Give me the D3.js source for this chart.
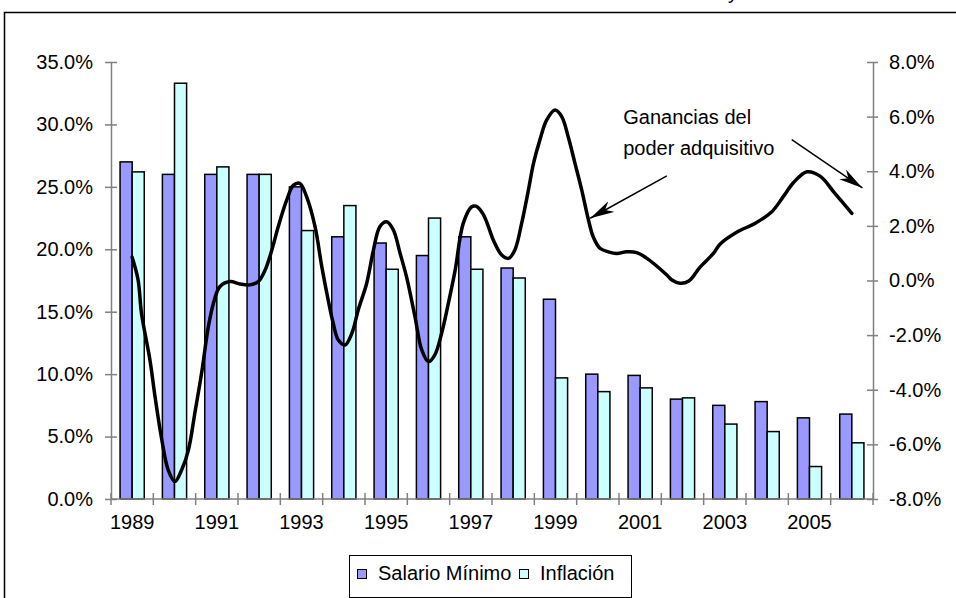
<!DOCTYPE html>
<html>
<head>
<meta charset="utf-8">
<script src="https://cdn.jsdelivr.net/npm/d3@7"></script>
<style>
body { margin: 0; background: #fff; }
text { font-family: "Liberation Sans", Arial, sans-serif; font-size: 20px; fill: #000; }
</style>
</head>
<body>
<div id="chart"></div>
<script>
var years = [1989, 1990, 1991, 1992, 1993, 1994, 1995, 1996, 1997, 1998, 1999, 2000, 2001, 2002, 2003, 2004, 2005, 2006];
var salarioMinimo = [27.0, 26.0, 26.0, 26.0, 25.0, 21.0, 20.5, 19.5, 21.0, 18.5, 16.0, 10.0, 9.9, 8.0, 7.5, 7.8, 6.5, 6.8];
var inflacion = [26.2, 33.3, 26.6, 26.0, 21.5, 23.5, 18.4, 22.5, 18.4, 17.7, 9.7, 8.6, 8.9, 8.1, 6.0, 5.4, 2.6, 4.5];
var leftTicks = [0, 5, 10, 15, 20, 25, 30, 35];
var rightTicks = [-8, -6, -4, -2, 0, 2, 4, 6, 8];
var yearLabels = [1989, 1991, 1993, 1995, 1997, 1999, 2001, 2003, 2005];

// ganancias del poder adquisitivo (eje derecho)
var gananciaFecha = [1989.00, 1989.14, 1989.22, 1989.42, 1989.54, 1989.70, 1989.85, 1990.01, 1990.17, 1990.33,
	1990.48, 1990.64, 1990.80, 1990.92, 1991.07, 1991.31, 1991.55, 1991.78, 1991.98, 1992.14,
	1992.30, 1992.45, 1992.65, 1992.81, 1992.96, 1993.12, 1993.32, 1993.48, 1993.63, 1993.75,
	1993.87, 1994.03, 1994.19, 1994.34, 1994.54, 1994.70, 1994.85, 1995.01, 1995.17, 1995.33,
	1995.48, 1995.68, 1995.84, 1996.00, 1996.15, 1996.31, 1996.47, 1996.63, 1996.82, 1997.02,
	1997.12, 1997.29, 1997.45, 1997.53, 1997.73, 1997.89, 1998.04, 1998.20, 1998.36, 1998.48,
	1998.63, 1998.79, 1998.99, 1999.15, 1999.30, 1999.46, 1999.62, 1999.78, 1999.89, 2000.05,
	2000.25, 2000.45, 2000.68, 2000.92, 2001.15, 2001.39, 2001.63, 2001.75, 2001.94, 2002.15,
	2002.41, 2002.73, 2002.89, 2003.28, 2003.71, 2004.11, 2004.38, 2004.62, 2004.94, 2005.25,
	2005.60, 2006.00];
var gananciaValor = [0.85, 0.02, -1.20, -2.91, -4.25, -5.83, -6.93, -7.36, -6.93, -6.20,
	-4.86, -3.39, -1.69, -0.83, -0.23, -0.04, -0.13, -0.16, -0.04, 0.38,
	1.12, 1.97, 2.94, 3.49, 3.56, 3.07, 1.97, 0.50, -0.71, -1.57,
	-2.18, -2.36, -1.93, -1.08, -0.10, 1.12, 1.97, 2.15, 1.85, 0.99,
	0.14, -1.32, -2.54, -2.97, -2.72, -1.93, -0.83, 0.38, 2.09, 2.70,
	2.72, 2.43, 1.82, 1.48, 0.93, 0.81, 1.12, 2.09, 3.31, 4.29,
	5.14, 5.87, 6.24, 5.99, 5.26, 4.29, 3.31, 2.21, 1.60, 1.18,
	1.05, 0.99, 1.05, 1.02, 0.82, 0.53, 0.20, 0.02, -0.10, -0.02,
	0.48, 0.99, 1.34, 1.77, 2.09, 2.52, 3.07, 3.58, 3.98, 3.82,
	3.19, 2.46];

var width = 956,
height = 598,
plotLeft = 111,
plotRight = 873,
plotTop = 62,
plotBottom = 499;

var svg = d3.select("#chart").append("svg")
.attr("width", width)
.attr("height", height);

svg.append("rect")
.attr("x", 4.5)
.attr("y", 12.5)
.attr("width", 1000)
.attr("height", 700)
.attr("fill", "#fff")
.attr("stroke", "#000")
.attr("stroke-width", 1.5);

svg.append("text")
.attr("x", 728)
.attr("y", -1)
.text("y");

var xScale = d3.scaleBand()
.domain(years)
.range([plotLeft, plotRight]);

var xSeries = d3.scaleBand()
.domain(["salario", "inflacion"])
.range([0, xScale.bandwidth()])
.paddingInner(0)
.paddingOuter(0.75);

var yLeft = d3.scaleLinear().domain([0, 35]).range([plotBottom, plotTop]);
var yRight = d3.scaleLinear().domain([-8, 8]).range([plotBottom, plotTop]);

var half = xScale.bandwidth() / 2;
var xYear = d3.scaleLinear()
.domain([years[0], years[years.length - 1]])
.range([xScale(years[0]) + half, xScale(years[years.length - 1]) + half]);

var rows = years.map(function(y, i) {
	return { year: y, salario: salarioMinimo[i], inflacion: inflacion[i] };
});

var groups = svg.selectAll("g.year")
.data(rows)
.enter()
.append("g")
.attr("class", "year")
.attr("transform", function(d) { return "translate(" + xScale(d.year) + ",0)"; });

groups.append("rect")
.attr("x", xSeries("salario"))
.attr("y", function(d) { return yLeft(d.salario); })
.attr("width", xSeries.bandwidth())
.attr("height", function(d) { return plotBottom - yLeft(d.salario); })
.attr("fill", "#9999FF")
.attr("stroke", "#000")
.attr("stroke-width", 1.5);

groups.append("rect")
.attr("x", xSeries("inflacion"))
.attr("y", function(d) { return yLeft(d.inflacion); })
.attr("width", xSeries.bandwidth())
.attr("height", function(d) { return plotBottom - yLeft(d.inflacion); })
.attr("fill", "#CCFFFF")
.attr("stroke", "#000")
.attr("stroke-width", 1.5);

var pct = function(d) { return d.toFixed(1) + "%"; };

//left axis
var leftAxis = svg.append("g")
.attr("transform", "translate(" + plotLeft + ",0)")
.call(d3.axisLeft(yLeft).tickValues(leftTicks).tickFormat(pct).tickSizeInner(6).tickSizeOuter(0).tickPadding(12));

//right axis
var rightAxis = svg.append("g")
.attr("transform", "translate(" + plotRight + ",0)")
.call(d3.axisRight(yRight).tickValues(rightTicks).tickFormat(pct).tickSizeInner(5).tickSizeOuter(0).tickPadding(11));

leftAxis.selectAll(".tick line").attr("x1", 6);
rightAxis.selectAll(".tick line").attr("x1", -6);

//bottom axis
var bottomAxis = svg.append("g")
.attr("transform", "translate(0," + plotBottom + ")")
.call(d3.axisBottom(xScale).tickValues(yearLabels).tickSize(0).tickPadding(16));

bottomAxis.select(".domain").remove();

svg.append("line")
.attr("x1", plotLeft)
.attr("x2", plotRight)
.attr("y1", plotBottom)
.attr("y2", plotBottom)
.attr("stroke", "#808080")
.attr("stroke-width", 1.5);

svg.selectAll("line.xtick")
.data(years.concat(["end"]))
.enter()
.append("line")
.attr("class", "xtick")
.attr("x1", function(d) { return d === "end" ? plotRight : xScale(d); })
.attr("x2", function(d) { return d === "end" ? plotRight : xScale(d); })
.attr("y1", plotBottom - 6)
.attr("y2", plotBottom + 6)
.attr("stroke", "#808080")
.attr("stroke-width", 1.5);

svg.selectAll(".domain, .tick line")
.attr("stroke", "#808080")
.attr("stroke-width", 1.5);

svg.selectAll(".tick text")
.style("font-family", "'Liberation Sans', Arial, sans-serif")
.style("font-size", "20px")
.attr("fill", "#000");

//linea de ganancias
var line = d3.line()
.x(function(d) { return xYear(d[0]); })
.y(function(d) { return yRight(d[1]); })
.curve(d3.curveCatmullRom.alpha(0.5));

svg.append("path")
.datum(d3.zip(gananciaFecha, gananciaValor))
.attr("d", line)
.attr("fill", "none")
.attr("stroke", "#000")
.attr("stroke-width", 3.5)
.attr("stroke-linejoin", "round")
.attr("stroke-linecap", "round");

//anotacion
svg.append("defs").append("marker")
.attr("id", "head")
.attr("markerUnits", "userSpaceOnUse")
.attr("viewBox", "-24 -7 26 14")
.attr("refX", 0)
.attr("refY", 0)
.attr("markerWidth", 26)
.attr("markerHeight", 14)
.attr("orient", "auto")
.append("path")
.attr("d", "M0,0 L-24,-6 L-17,0 L-24,6 Z")
.attr("fill", "#000");

var arrows = [
	{ from: [2001.63, 3.83], to: [1999.82, 2.28] },
	{ from: [2004.58, 5.16], to: [2006.25, 3.39] }
];

svg.selectAll("line.arrow")
.data(arrows)
.enter()
.append("line")
.attr("class", "arrow")
.attr("x1", function(d) { return xYear(d.from[0]); })
.attr("y1", function(d) { return yRight(d.from[1]); })
.attr("x2", function(d) { return xYear(d.to[0]); })
.attr("y2", function(d) { return yRight(d.to[1]); })
.attr("stroke", "#000")
.attr("stroke-width", 1.5)
.attr("marker-end", "url(#head)");

var note = svg.append("text")
.attr("x", xYear(2000.60))
.attr("y", yRight(5.72));
note.append("tspan").text("Ganancias del");
note.append("tspan")
.attr("x", xYear(2000.60))
.attr("dy", 31)
.text("poder adquisitivo");

//legend
var legend = svg.append("g");

legend.append("rect")
.attr("x", 349.5)
.attr("y", 555.5)
.attr("width", 282)
.attr("height", 42)
.attr("fill", "#fff")
.attr("stroke", "#000")
.attr("stroke-width", 1);

var legendItems = [
	{ label: "Salario Mínimo", color: "#9999FF", x: 357 },
	{ label: "Inflación", color: "#CCFFFF", x: 519 }
];

var items = legend.selectAll("g.item")
.data(legendItems)
.enter()
.append("g")
.attr("class", "item")
.attr("transform", function(d) { return "translate(" + d.x + ",569)"; });

items.append("rect")
.attr("x", 0.5)
.attr("y", 0.5)
.attr("width", 9)
.attr("height", 9)
.attr("fill", function(d) { return d.color; })
.attr("stroke", "#000")
.attr("stroke-width", 1);

items.append("text")
.attr("x", 21)
.attr("y", 11)
.text(function(d) { return d.label; });
</script>
</body>
</html>
